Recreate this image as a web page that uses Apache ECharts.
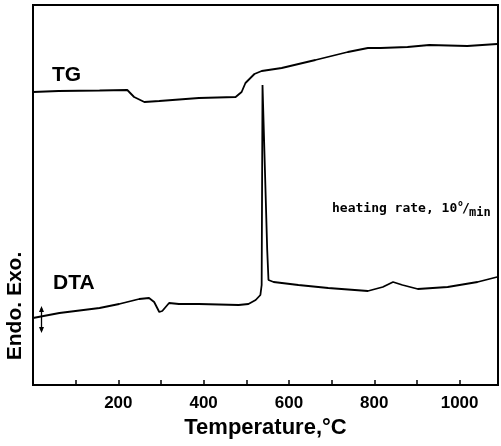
<!DOCTYPE html>
<html>
<head>
<meta charset="utf-8">
<script src="https://cdn.jsdelivr.net/npm/echarts@6/dist/echarts.min.js"></script>
<style>html,body{margin:0;padding:0;background:#fff;}#c{width:501px;height:446px;}</style>
</head>
<body>
<div id="c"></div>
<script>
// Temperature (°C) for each TG reading
var tgTemp = [0, 60, 156, 221, 237, 261, 296, 389, 475, 489, 498, 505, 519, 536, 583, 662, 738, 785, 815, 878, 929, 1018, 1088];
// TG signal (arbitrary units, up = higher)
var tgVal  = [293, 294, 294.5, 295, 288, 283, 284, 287, 288, 293, 302, 305, 311, 314, 317, 325, 333, 337, 337, 338, 340, 339, 341];

// Temperature (°C) for each DTA reading
var dtaTemp = [0, 62, 156, 202, 249, 272, 284, 296, 303, 319, 342, 389, 482, 505, 522, 533, 536, 538, 541, 549, 552, 564, 622, 692, 785, 820, 844, 866, 902, 972, 1042, 1088];
// DTA signal (arbitrary units, up = exo)
var dtaVal  = [67, 72, 77, 81, 86, 87, 83, 73, 74, 82, 81, 81, 80, 81, 85, 90, 100, 300, 255, 135, 105, 103, 100, 97, 94, 98, 103, 100, 96, 98, 103, 108];

var xTicks = [200, 400, 600, 800, 1000];

function pairs(xs, ys) { return xs.map(function (x, i) { return [x, ys[i]]; }); }

var chart = echarts.init(document.getElementById('c'), null, { renderer: 'canvas' });
var lineStyle = { color: '#000', width: 1.8 };
chart.setOption({
  animation: false,
  backgroundColor: '#fff',
  grid: { left: 33, right: 1, top: 5, bottom: 61, show: true, borderColor: '#000', borderWidth: 2, backgroundColor: 'transparent' },
  xAxis: {
    type: 'value', min: 0, max: 1090, interval: 100,
    axisLine: { show: true, lineStyle: { color: '#000', width: 2 } },
    axisTick: { show: true, inside: true, length: 5, lineStyle: { color: '#000', width: 1.5 } },
    splitLine: { show: false },
    axisLabel: {
      color: '#000', fontFamily: 'Liberation Sans', fontWeight: 'bold', fontSize: 17, margin: 10,
      formatter: function (v) { return xTicks.indexOf(v) >= 0 ? String(v) : ''; }
    },
    name: 'Temperature,°C', nameLocation: 'middle', nameGap: 30,
    nameTextStyle: { color: '#000', fontFamily: 'Liberation Sans', fontWeight: 'bold', fontSize: 22 }
  },
  yAxis: {
    type: 'value', min: 0, max: 380,
    axisLine: { show: true, lineStyle: { color: '#000', width: 2 } },
    axisTick: { show: false }, axisLabel: { show: false }, splitLine: { show: false }
  },
  series: [
    { type: 'line', data: pairs(tgTemp, tgVal), showSymbol: false, lineStyle: lineStyle, silent: true },
    { type: 'line', data: pairs(dtaTemp, dtaVal), showSymbol: false, lineStyle: lineStyle, silent: true }
  ],
  graphic: [
    { type: 'text', style: { text: 'TG', x: 52, y: 75, textVerticalAlign: 'middle', font: 'bold 21px "Liberation Sans"', fill: '#000' } },
    { type: 'text', style: { text: 'DTA', x: 53, y: 283, textVerticalAlign: 'middle', font: 'bold 21px "Liberation Sans"', fill: '#000' } },
    { type: 'text', style: { text: 'heating rate, 10', x: 332, y: 209, textVerticalAlign: 'middle', font: 'bold 13px "DejaVu Sans Mono"', fill: '#000' } },
    { type: 'text', style: { text: 'o', x: 458, y: 204, textVerticalAlign: 'middle', font: 'bold 8px "DejaVu Sans Mono"', fill: '#000' } },
    { type: 'text', style: { text: '/', x: 462, y: 209, textVerticalAlign: 'middle', font: 'bold 13px "DejaVu Sans Mono"', fill: '#000' } },
    { type: 'text', style: { text: 'min', x: 469, y: 213, textVerticalAlign: 'middle', font: 'bold 12px "DejaVu Sans Mono"', fill: '#000' } },
    { type: 'text', rotation: Math.PI / 2, x: 15, y: 306,
      style: { text: 'Endo. Exo.', x: 0, y: 0, textAlign: 'center', textVerticalAlign: 'middle', font: 'bold 21px "Liberation Sans"', fill: '#000' } },
    { type: 'line', shape: { x1: 41.5, y1: 308, x2: 41.5, y2: 331 }, style: { stroke: '#000', lineWidth: 1.3 } },
    { type: 'polygon', shape: { points: [[41.5, 306], [39, 312], [44, 312]] }, style: { fill: '#000' } },
    { type: 'polygon', shape: { points: [[41.5, 333], [39, 327], [44, 327]] }, style: { fill: '#000' } }
  ]
});
</script>
</body>
</html>
